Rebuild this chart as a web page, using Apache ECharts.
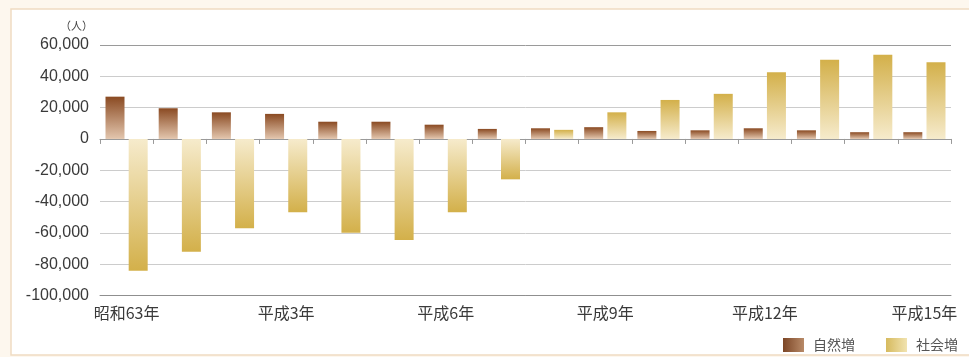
<!DOCTYPE html>
<html>
<head>
<meta charset="utf-8">
<script src="https://cdn.jsdelivr.net/npm/echarts@6/dist/echarts.min.js"></script>
<style>
  html, body { margin: 0; padding: 0; background: #fdf7ee; }
  #chart { width: 969px; height: 357px; }
</style>
</head>
<body>
<div id="chart"></div>
<script>
// Population change by year (persons)
const years = ['昭和63年', '平成元年', '平成2年', '平成3年', '平成4年', '平成5年', '平成6年', '平成7年',
               '平成8年', '平成9年', '平成10年', '平成11年', '平成12年', '平成13年', '平成14年', '平成15年'];
const naturalIncrease = [27000, 19600, 17000, 16000, 11000, 11000, 9100, 6400,
                         6800, 7500, 5100, 5500, 6800, 5500, 4300, 4300];
const socialIncrease = [-84200, -72000, -57100, -46800, -59900, -64500, -46800, -25800,
                        5800, 17000, 24900, 28800, 42600, 50500, 53700, 49000];
const seriesNames = ['自然増', '社会増'];
const unitLabel = '（人）';

const G = echarts.graphic.LinearGradient;
// Bars fade from a deep tone at the far end to a pale tone at the zero line
function barFill(v, dark, light) {
  return v >= 0
    ? new G(0, 0, 0, 1, [{ offset: 0, color: dark }, { offset: 1, color: light }])
    : new G(0, 0, 0, 1, [{ offset: 0, color: light }, { offset: 1, color: dark }]);
}
const brown = { dark: '#8a4a22', light: '#e3c6ae' };
const gold = { dark: '#d3b04a', light: '#f6ebcc' };

const chart = echarts.init(document.getElementById('chart'), null, { renderer: 'canvas' });

const splitColors = ['#8f8f8f', '#cccccc', '#cccccc', '#cccccc', '#cccccc', '#cccccc', '#cccccc', '#cccccc', '#9a9a9a'];

chart.setOption({
  backgroundColor: '#fdf7ee',
  animation: false,
  graphic: [{
    type: 'rect',
    z: -10,
    silent: true,
    shape: { x: 11, y: 9, width: 975, height: 346 },
    style: { fill: '#ffffff', stroke: '#f0dcc2', lineWidth: 1.5 }
  }],
  grid: { left: 100, right: 18, top: 45, bottom: 61.5 },
  legend: {
    left: 778,
    top: 333,
    itemWidth: 21,
    itemHeight: 14,
    itemGap: 31,
    icon: 'rect',
    textStyle: { fontFamily: 'Noto Sans CJK JP', fontSize: 14, color: '#555', padding: [0, 0, 0, 4] },
    data: seriesNames
  },
  xAxis: [{
    type: 'category',
    data: years,
    position: 'bottom',
    axisLine: { onZero: false, lineStyle: { color: '#8f8f8f', width: 1 } },
    axisTick: { show: false },
    axisLabel: {
      interval: 2,
      margin: 9,
      fontFamily: 'Noto Sans CJK JP',
      fontSize: 16,
      color: '#3a3a3a'
    },
    splitLine: { show: false }
  }, {
    type: 'category',
    data: years,
    position: 'bottom',
    axisLine: { onZero: true, lineStyle: { color: '#9a9a9a', width: 1 } },
    axisTick: { show: true, interval: 0, length: 5, lineStyle: { color: '#9a9a9a' } },
    axisLabel: { show: false, interval: 0 },
    splitLine: { show: false }
  }],
  yAxis: {
    type: 'value',
    min: -100000,
    max: 60000,
    interval: 20000,
    name: unitLabel,
    nameLocation: 'end',
    nameGap: 14,
    nameTextStyle: {
      fontFamily: 'Noto Sans CJK JP',
      fontSize: 11,
      color: '#444',
      align: 'right',
      padding: [0, 7, 0, 0]
    },
    axisLine: { show: false },
    axisTick: { show: false },
    axisLabel: {
      margin: 11,
      fontFamily: 'Liberation Sans',
      fontSize: 16,
      color: '#3a3a3a'
    },
    splitLine: { show: true, lineStyle: { color: splitColors, width: 1 } }
  },
  series: [{
    name: seriesNames[0],
    type: 'bar',
    xAxisIndex: 0,
    barWidth: 19,
    barGap: '22%',
    itemStyle: { color: new G(0, 0, 1, 0, [{ offset: 0, color: '#7c4626' }, { offset: 1, color: '#b88a68' }]) },
    data: naturalIncrease.map(v => ({ value: v, itemStyle: { color: barFill(v, brown.dark, brown.light) } }))
  }, {
    name: seriesNames[1],
    type: 'bar',
    xAxisIndex: 0,
    barWidth: 19,
    barGap: '22%',
    itemStyle: { color: new G(0, 0, 1, 0, [{ offset: 0, color: '#d6ba5e' }, { offset: 1, color: '#f1e3b0' }]) },
    data: socialIncrease.map(v => ({ value: v, itemStyle: { color: barFill(v, gold.dark, gold.light) } }))
  }]
});
</script>
</body>
</html>
